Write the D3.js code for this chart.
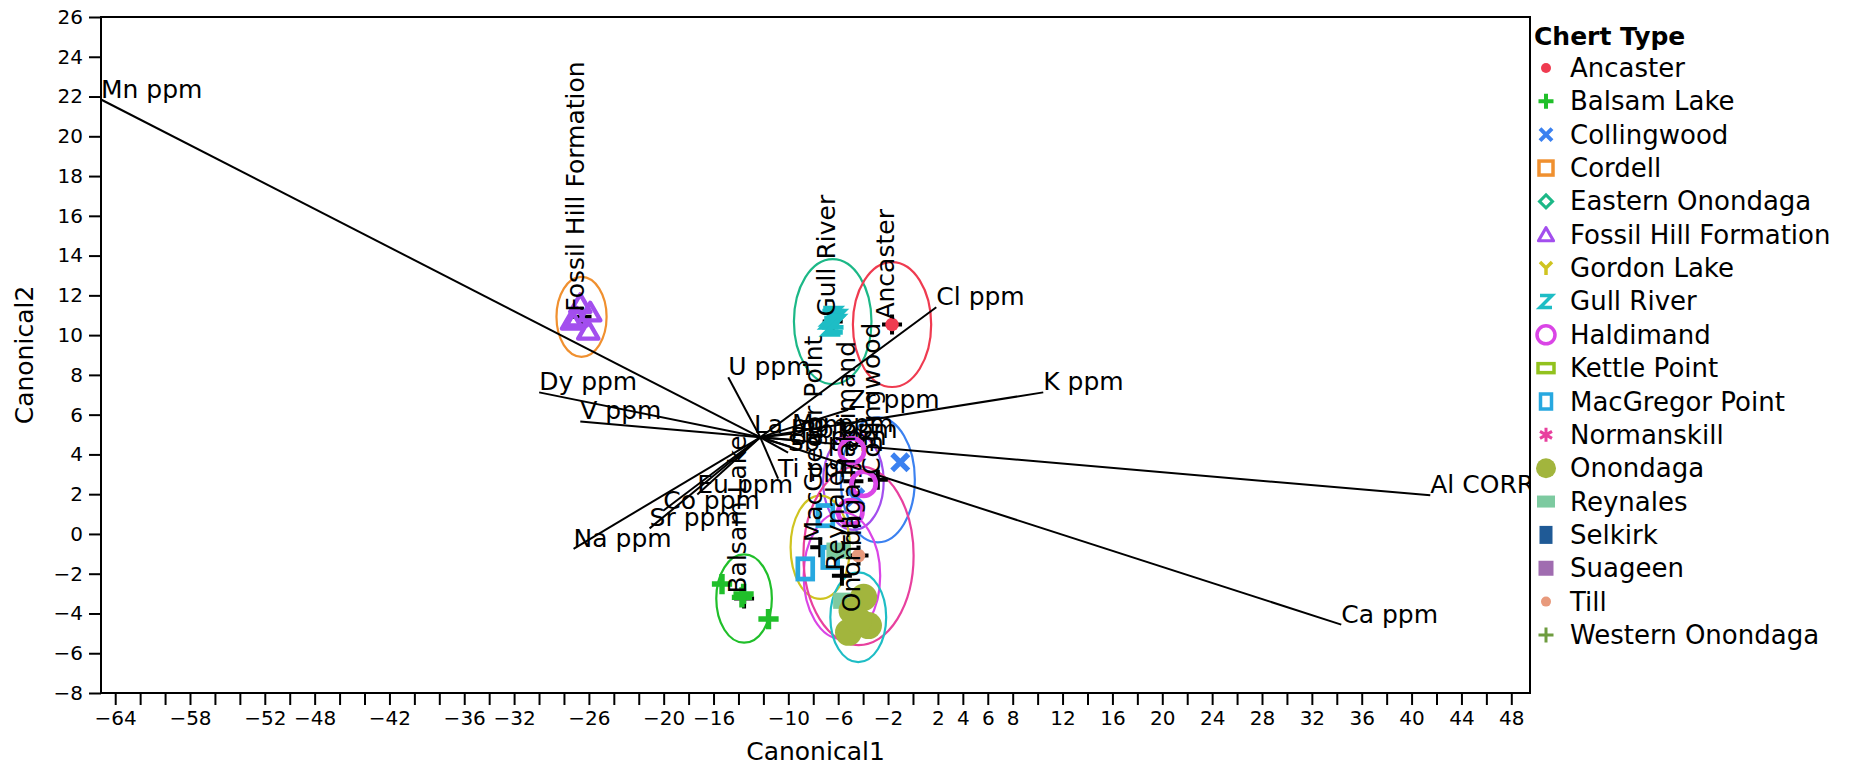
<!DOCTYPE html>
<html>
<head>
<meta charset="utf-8">
<script src="https://cdn.jsdelivr.net/npm/d3@7"></script>
<style>
  body { margin: 0; background: #fff; }
  svg { font-family: "DejaVu Sans", sans-serif; }
</style>
</head>
<body>
<svg id="chart" width="1856" height="768"></svg>
<script>

// chert types (legend order)
const chertTypes = ["Ancaster", "Balsam Lake", "Collingwood", "Cordell", "Eastern Onondaga",
  "Fossil Hill Formation", "Gordon Lake", "Gull River", "Haldimand", "Kettle Point",
  "MacGregor Point", "Normanskill", "Onondaga", "Reynales", "Selkirk", "Suageen", "Till",
  "Western Onondaga"];
const chertColors = ["#ef3b50", "#20bf2a", "#3b81f0", "#f0902f", "#1cb887", "#a34eee", "#cfc420",
  "#1ebdc5", "#da45e6", "#92c21e", "#27a8e0", "#e8409e", "#a2b53d", "#7dcaa0", "#1f5a96",
  "#a06cb0", "#e89a7c", "#6e9c3f"];
const chertShapes = ["dot", "plus", "x", "square", "diamond", "triangle", "y", "z", "circle",
  "rectW", "rectT", "asterisk", "bigdot", "fillW", "fillT", "fillSq", "smalldot", "thinplus"];

// canonical scores of the samples
const sampleType = ["Fossil Hill Formation", "Fossil Hill Formation", "Fossil Hill Formation",
  "Fossil Hill Formation", "Fossil Hill Formation",
  "Gull River", "Gull River", "Gull River", "Gull River", "Gull River",
  "Ancaster",
  "Balsam Lake", "Balsam Lake", "Balsam Lake", "Balsam Lake",
  "Collingwood", "Collingwood",
  "Haldimand", "Haldimand", "Haldimand",
  "MacGregor Point", "MacGregor Point", "MacGregor Point",
  "Reynales", "Reynales",
  "Till",
  "Onondaga", "Onondaga", "Onondaga", "Onondaga", "Onondaga"];
const sampleC1 = [-26.69, -27.35, -25.89, -26.05, -26.96,
  -6.62, -6.22, -6.47, -6.55, -6.28,
  -1.68,
  -15.32, -13.72, -11.59, -13.59,
  -1.02, -4.63,
  -4.89, -3.96, -5.03,
  -7.03, -6.64, -8.64,
  -5.97, -5.43,
  -4.37,
  -3.96, -4.89, -3.57, -5.17, -4.37];
const sampleC2 = [11.58, 10.73, 11.15, 10.23, 10.9,
  10.8, 10.8, 10.45, 10.95, 10.55,
  10.53,
  -2.52, -3.19, -4.28, -3.02,
  3.6, 1.84,
  4.19, 2.52, 1.09,
  0.92, -1.18, -1.76,
  -0.84, -3.36,
  -1.09,
  -3.19, -3.86, -4.61, -4.95, -4.36];

// group means and 95% ellipse radii (canonical units)
const meanType = ["Fossil Hill Formation", "Gull River", "Ancaster", "Balsam Lake", "Collingwood",
  "Haldimand", "MacGregor Point", "Reynales", "Till", "Onondaga"];
const meanC1 = [-26.59, -6.44, -1.68, -13.55, -2.82, -4.78, -7.44, -5.7, -4.37, -4.39];
const meanC2 = [10.92, 10.68, 10.53, -3.25, 2.72, 2.65, -0.67, -2.1, -1.09, -4.19];
const ellipseR1 = [2.01, 3.11, 3.14, 2.23, 2.97, 2.43, 2.38, 3.07, 4.42, 2.24];
const ellipseR2 = [2.01, 3.14, 3.14, 2.22, 3.14, 2.45, 2.6, 3.19, 4.5, 2.26];
const ellipseColors = ["#f0902f", "#1cb887", "#ef3b50", "#20bf2a", "#3b81f0", "#a34eee",
  "#cfc420", "#da45e6", "#e8409e", "#1ebdc5"];

// biplot rays
const rayOrigin = [-12.25, 4.86];
const rayLabels = ["Mn ppm", "Dy ppm", "V ppm", "Na ppm", "Sr ppm", "Co ppm", "Eu ppm", "U ppm",
  "La ppm", "Ti ppm", "Cl ppm", "K ppm", "Zr ppm", "Al CORR", "Ca ppm",
  "Mg ppm", "Rb ppm", "Ba ppm", "Sb ppm"];
const rayC1 = [-65.14, -29.99, -26.69, -27.23, -21.13, -20.04, -17.3, -14.82,
  -12.76, -10.82, 1.87, 10.45, -5.2, 41.5, 34.36,
  -9.7, -9.04, -9.86, -10.02];
const rayC2 = [21.85, 7.12, 5.66, -0.75, 0.28, 1.17, 1.98, 7.88,
  5.0, 2.78, 11.4, 7.12, 6.25, 1.94, -4.56,
  5.04, 4.7, 4.39, 4.09];

// axis ticks
const xTicks = d3.range(-64, 49, 2);
const xTickLabels = [-64, -58, -52, -48, -42, -36, -32, -26, -20, -16, -10, -6, -2, 2, 4, 6, 8,
  12, 16, 20, 24, 28, 32, 36, 40, 44, 48];
const yTicks = d3.range(-8, 27, 2);

var plot = {left: 101, right: 1530, top: 17, bottom: 693};

var svg = d3.select("#chart");

var x = d3.scaleLinear().domain([-65.14, 49.5]).range([plot.left, plot.right]);
var y = d3.scaleLinear().domain([-8, 26]).range([plot.bottom, plot.top]);

var colorOf = new Map();
var shapeOf = new Map();
for (var i = 0; i < chertTypes.length; i++) {
  colorOf.set(chertTypes[i], chertColors[i]);
  shapeOf.set(chertTypes[i], chertShapes[i]);
}

function drawMarker(g, shape, color, k) {
  var s = function(v) { return v * k; };
  switch (shape) {
    case "dot":
      g.append("circle").attr("r", s(5)).attr("fill", color); break;
    case "smalldot":
      g.append("circle").attr("r", s(5)).attr("fill", color); break;
    case "bigdot":
      g.append("circle").attr("r", s(10)).attr("fill", color); break;
    case "plus":
    case "thinplus":
      g.append("path")
        .attr("d", `M${-s(7.5)},0H${s(7.5)}M0,${-s(7.5)}V${s(7.5)}`)
        .attr("stroke", color).attr("stroke-width", shape == "plus" ? s(4) : s(3)).attr("fill", "none");
      break;
    case "x":
      g.append("path")
        .attr("d", `M${-s(6)},${-s(6)}L${s(6)},${s(6)}M${-s(6)},${s(6)}L${s(6)},${-s(6)}`)
        .attr("stroke", color).attr("stroke-width", s(4)).attr("fill", "none");
      break;
    case "square":
      g.append("rect").attr("x", -s(7)).attr("y", -s(7)).attr("width", s(14)).attr("height", s(14))
        .attr("fill", "none").attr("stroke", color).attr("stroke-width", s(3.5));
      break;
    case "diamond":
      g.append("path").attr("d", `M0,${-s(6.5)}L${s(6.5)},0L0,${s(6.5)}L${-s(6.5)},0Z`)
        .attr("fill", "none").attr("stroke", color).attr("stroke-width", s(3));
      break;
    case "triangle":
      g.append("path").attr("d", `M0,${-s(7)}L${s(7.5)},${s(6)}L${-s(7.5)},${s(6)}Z`)
        .attr("fill", "none").attr("stroke", color).attr("stroke-width", s(3.2))
        .attr("stroke-linejoin", "round");
      break;
    case "y":
      g.append("path").attr("d", `M${-s(6)},${-s(6)}L0,0L${s(6)},${-s(6)}M0,0V${s(7)}`)
        .attr("fill", "none").attr("stroke", color).attr("stroke-width", s(3.5));
      break;
    case "z":
      g.append("path").attr("d", `M${-s(6)},${-s(6)}H${s(6)}L${-s(6)},${s(6)}H${s(6)}`)
        .attr("fill", "none").attr("stroke", color).attr("stroke-width", s(3.5));
      break;
    case "circle":
      g.append("circle").attr("r", s(9)).attr("fill", "none")
        .attr("stroke", color).attr("stroke-width", s(3.5));
      break;
    case "rectW":
      g.append("rect").attr("x", -s(8)).attr("y", -s(4.5)).attr("width", s(16)).attr("height", s(9))
        .attr("fill", "none").attr("stroke", color).attr("stroke-width", s(3.5));
      break;
    case "rectT":
      g.append("rect").attr("x", -s(5.5)).attr("y", -s(7.5)).attr("width", s(11)).attr("height", s(15))
        .attr("fill", "none").attr("stroke", color).attr("stroke-width", s(3.5));
      break;
    case "asterisk":
      g.append("path")
        .attr("d", `M0,${-s(7)}V${s(7)}M${-s(6)},${-s(3.5)}L${s(6)},${s(3.5)}M${-s(6)},${s(3.5)}L${s(6)},${-s(3.5)}`)
        .attr("fill", "none").attr("stroke", color).attr("stroke-width", s(3));
      break;
    case "fillW":
      g.append("rect").attr("x", -s(9)).attr("y", -s(6)).attr("width", s(18)).attr("height", s(12))
        .attr("fill", color);
      break;
    case "fillT":
      g.append("rect").attr("x", -s(6.5)).attr("y", -s(9)).attr("width", s(13)).attr("height", s(18))
        .attr("fill", color);
      break;
    case "fillSq":
      g.append("rect").attr("x", -s(7.5)).attr("y", -s(7.5)).attr("width", s(15)).attr("height", s(15))
        .attr("fill", color);
      break;
  }
}

// clip to plot frame
svg.append("defs").append("clipPath").attr("id", "plotclip")
  .append("rect")
  .attr("x", plot.left).attr("y", plot.top)
  .attr("width", plot.right - plot.left).attr("height", plot.bottom - plot.top);

var inner = svg.append("g").attr("clip-path", "url(#plotclip)");

// ellipses
inner.append("g").selectAll("ellipse")
  .data(meanType)
  .enter()
  .append("ellipse")
  .attr("cx", function(d, i) { return x(meanC1[i]); })
  .attr("cy", function(d, i) { return y(meanC2[i]); })
  .attr("rx", function(d, i) { return x(ellipseR1[i]) - x(0); })
  .attr("ry", function(d, i) { return y(0) - y(ellipseR2[i]); })
  .attr("fill", "none")
  .attr("stroke", function(d, i) { return ellipseColors[i]; })
  .attr("stroke-width", 2.2);

// rays
var rays = inner.append("g");
rays.selectAll("line")
  .data(rayLabels)
  .enter()
  .append("line")
  .attr("x1", x(rayOrigin[0])).attr("y1", y(rayOrigin[1]))
  .attr("x2", function(d, i) { return x(rayC1[i]); })
  .attr("y2", function(d, i) { return y(rayC2[i]); })
  .attr("stroke", "#000")
  .attr("stroke-width", 2);
rays.selectAll("text")
  .data(rayLabels)
  .enter()
  .append("text")
  .attr("x", function(d, i) { return x(rayC1[i]); })
  .attr("y", function(d, i) { return y(rayC2[i]) - 2; })
  .attr("font-size", 25)
  .attr("fill", "#000")
  .text(function(d) { return d; });

// group means
inner.append("g").selectAll("path")
  .data(meanType)
  .enter()
  .append("path")
  .attr("transform", function(d, i) { return "translate(" + x(meanC1[i]) + "," + y(meanC2[i]) + ")"; })
  .attr("d", "M-10,0H10M0,-10V10")
  .attr("stroke", "#000")
  .attr("stroke-width", 4);

// sample points
var pts = inner.append("g");
for (var i = 0; i < sampleType.length; i++) {
  var g = pts.append("g").attr("transform", "translate(" + x(sampleC1[i]) + "," + y(sampleC2[i]) + ")");
  drawMarker(g, shapeOf.get(sampleType[i]), colorOf.get(sampleType[i]), 1.35);
}

// group labels (rotated)
inner.append("g").selectAll("text")
  .data(meanType)
  .enter()
  .append("text")
  .attr("transform", function(d, i) {
    return "translate(" + (x(meanC1[i]) + 2) + "," + (y(meanC2[i]) - 5) + ") rotate(-90)";
  })
  .attr("font-size", 25)
  .attr("fill", "#000")
  .text(function(d) { return d; });

// frame
svg.append("rect")
  .attr("x", plot.left).attr("y", plot.top)
  .attr("width", plot.right - plot.left).attr("height", plot.bottom - plot.top)
  .attr("fill", "none").attr("stroke", "#000").attr("stroke-width", 2);

// axes
var labelSet = new Set(xTickLabels);
var fmt = d3.format("d");
var xAxis = svg.append("g")
  .attr("transform", "translate(0," + plot.bottom + ")")
  .call(d3.axisBottom(x).tickValues(xTicks).tickSize(12).tickPadding(6)
    .tickFormat(function(d) { return labelSet.has(d) ? fmt(d) : ""; }));
xAxis.select(".domain").remove();
xAxis.selectAll("line").attr("stroke-width", 2);
xAxis.selectAll("text").attr("font-size", 20).attr("font-family", "DejaVu Sans").attr("fill", "#000");

var yAxis = svg.append("g")
  .attr("transform", "translate(" + plot.left + ",0)")
  .call(d3.axisLeft(y).tickValues(yTicks).tickSize(12).tickPadding(6).tickFormat(fmt));
yAxis.select(".domain").remove();
yAxis.selectAll("line").attr("stroke-width", 2);
yAxis.selectAll("text").attr("font-size", 20).attr("font-family", "DejaVu Sans").attr("fill", "#000");

// axis titles
svg.append("text")
  .attr("x", (plot.left + plot.right) / 2).attr("y", 760)
  .attr("text-anchor", "middle").attr("font-size", 25)
  .text("Canonical1");
svg.append("text")
  .attr("transform", "translate(33," + (plot.top + plot.bottom) / 2 + ") rotate(-90)")
  .attr("text-anchor", "middle").attr("font-size", 25)
  .text("Canonical2");

// legend
var legend = svg.append("g");
legend.append("text")
  .attr("x", 1534).attr("y", 45)
  .attr("font-size", 25).attr("font-weight", "bold")
  .text("Chert Type");
for (var i = 0; i < chertTypes.length; i++) {
  var cy = 68 + 33.35 * i;
  var mg = legend.append("g").attr("transform", "translate(1546," + cy + ")");
  drawMarker(mg, chertShapes[i], chertColors[i], 1);
  legend.append("text")
    .attr("x", 1570).attr("y", cy + 9)
    .attr("font-size", 26)
    .text(chertTypes[i]);
}

</script>
</body>
</html>
